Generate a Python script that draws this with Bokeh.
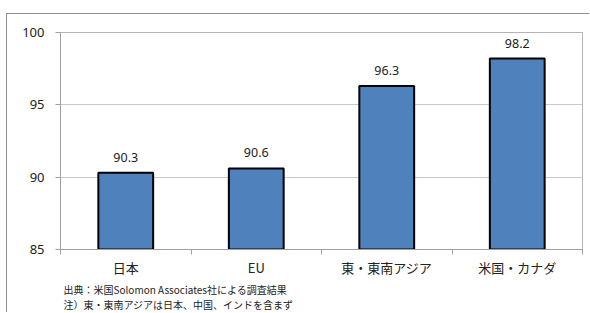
from bokeh.plotting import figure
from bokeh.models import FixedTicker, Range1d, ColumnDataSource, Title, LabelSet
from bokeh.embed import file_html
from bokeh.resources import INLINE
from bokeh.core.properties import value

categories = ["日本", "EU", "東・東南アジア", "米国・カナダ"]
values = [90.3, 90.6, 96.3, 98.2]
y_ticks = [85, 90, 95, 100]
notes = ["出典：米国Solomon Associates社による調査結果",
         "注）東・東南アジアは日本、中国、インドを含まず"]

xs = [i + 0.5 for i in range(len(categories))]
src = ColumnDataSource(dict(x=xs, top=values, label=[f"{v:.1f}" for v in values]))

p = figure(width=583, height=299, output_backend="svg", toolbar_location=None,
           x_range=Range1d(0, len(categories)), y_range=Range1d(85, 100),
           min_border_left=53, min_border_right=8, min_border_top=18, min_border_bottom=64)
p.styles = {"border-left": "1px solid #8c8c8c", "border-top": "1px solid #8c8c8c",
            "margin-left": "6px", "margin-top": "13px"}
p.outline_line_color = "#b4b4b4"
p.background_fill_color = "white"
p.border_fill_color = "white"

p.vbar(x="x", top="top", bottom=85, width=0.42, source=src,
       fill_color="#4F81BD", line_color="#000000", line_width=2)

p.add_layout(LabelSet(x="x", y="top", text="label", source=src, text_align="center",
                      text_baseline="bottom", y_offset=11, text_font=value("Noto Sans"),
                      text_font_size="12.5px", text_color="#222222"))

p.xgrid.grid_line_color = None
p.ygrid.grid_line_color = "#c8c8c8"
p.ygrid.ticker = FixedTicker(ticks=y_ticks)

p.yaxis.ticker = FixedTicker(ticks=y_ticks)
p.yaxis.axis_line_color = "#a0a0a0"
p.yaxis.major_tick_line_color = "#a0a0a0"
p.yaxis.major_tick_out = 5
p.yaxis.major_tick_in = 0
p.yaxis.minor_tick_line_color = None
p.yaxis.major_label_standoff = 11
p.yaxis.major_label_text_font = "Noto Sans"
p.yaxis.major_label_text_font_size = "13px"
p.yaxis.major_label_text_color = "#222222"

p.xaxis.ticker = FixedTicker(ticks=xs, minor_ticks=list(range(len(categories) + 1)))
p.xaxis.major_label_overrides = {x: c for x, c in zip(xs, categories)}
p.xaxis.axis_line_color = "#a0a0a0"
p.xaxis.major_tick_line_color = None
p.xaxis.minor_tick_line_color = "#a0a0a0"
p.xaxis.minor_tick_out = 5
p.xaxis.minor_tick_in = 0
p.xaxis.major_label_standoff = 2
p.xaxis.major_label_text_font = "Noto Sans CJK JP"
p.xaxis.major_label_text_font_size = "13px"
p.xaxis.major_label_text_color = "#222222"

p.add_layout(Title(text="\n".join(notes), align="left", offset=3, standoff=0,
                   text_font="Noto Sans CJK JP", text_font_size="10px",
                   text_line_height=1.0, text_font_style="normal",
                   text_color="#222222"), "below")

open("out.html", "w").write(file_html(p, INLINE))
